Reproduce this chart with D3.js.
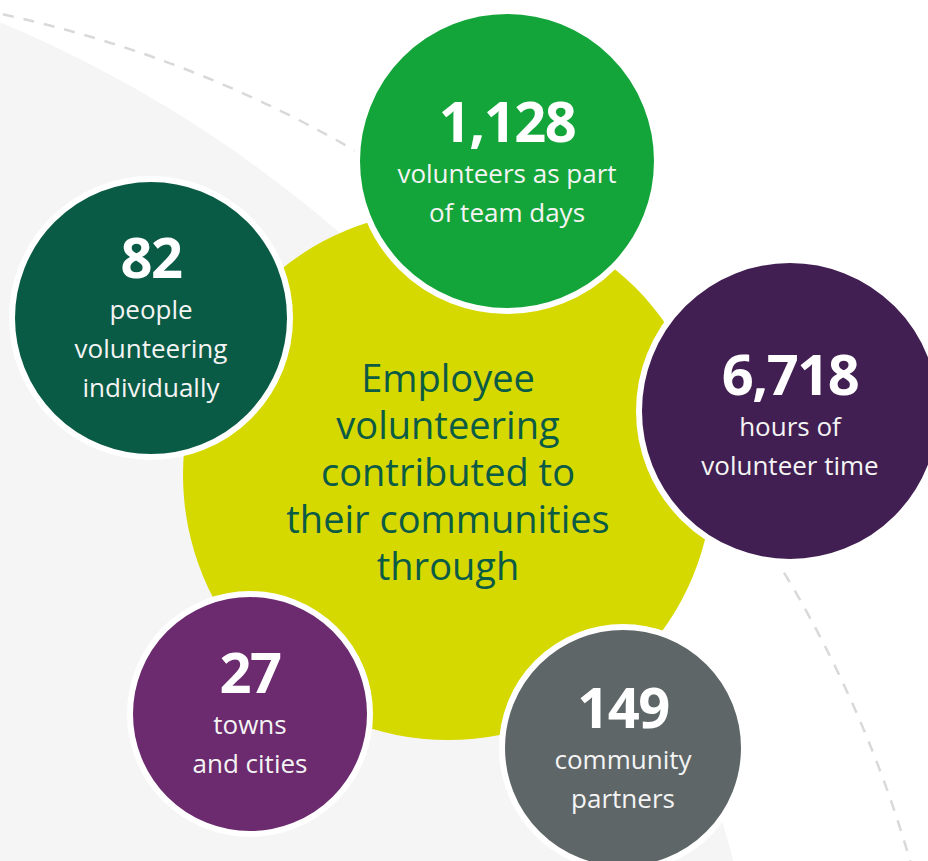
<!DOCTYPE html>
<html>
<head>
<meta charset="utf-8">
<title>employee volunteering</title>
<script src="https://d3js.org/d3.v7.min.js"></script>
<style>
    body { margin: 0; background: #fff; }
    svg { display: block; }
    .num { font-family: "Open Sans", sans-serif; font-weight: 700; fill: #fff; }
    .lbl { font-family: "Open Sans", sans-serif; fill: #f4f4f4; }
    .mid { font-family: "Open Sans", sans-serif; fill: #0b5b45; }
</style>
</head>
<body>
<svg class="chart"></svg>
<script>
    // data
    var statValues = [1128, 82, 6718, 27, 149];
    var statLabels = [
        ["volunteers as part", "of team days"],
        ["people", "volunteering", "individually"],
        ["hours of", "volunteer time"],
        ["towns", "and cities"],
        ["community", "partners"]
    ];
    var centreLines = ["Employee", "volunteering", "contributed to", "their communities", "through"];

    // layout (one entry per stat)
    var bubbleX = [507, 151, 790, 250, 623];
    var bubbleY = [161, 318, 411, 714, 748];
    var bubbleR = [150, 139, 151, 120, 121];
    var numOffset = [-19, -40, -16, -21, -20];
    var bubbleFill = ["#14a53a", "#0a5b45", "#421f52", "#6c2a6f", "#5f6668"];

    var width = 928, height = 861;

    var svg = d3.select(".chart")
        .attr("width", width)
        .attr("height", height);

    var x = d3.scaleIdentity().domain([0, width]);
    var y = d3.scaleIdentity().domain([0, height]);
    var fmt = d3.format(",");

    // light grey backdrop
    svg.append("circle")
        .attr("cx", x(-489)).attr("cy", y(1190)).attr("r", 1266)
        .attr("fill", "#f5f5f5");

    // dashed arc
    svg.append("circle")
        .attr("cx", x(-253)).attr("cy", y(1198)).attr("r", 1211)
        .attr("fill", "none")
        .attr("stroke", "#d9d9d9")
        .attr("stroke-width", 2.5)
        .attr("stroke-dasharray", "11 10");

    // centre circle
    svg.append("circle")
        .attr("cx", x(448)).attr("cy", y(475)).attr("r", 265)
        .attr("fill", "#d6d900");

    var mid = svg.append("text")
        .attr("class", "mid")
        .attr("text-anchor", "middle")
        .style("font-size", "38px");
    mid.selectAll("tspan")
        .data(centreLines)
        .enter().append("tspan")
        .attr("x", x(448))
        .attr("y", function(d, i) { return y(392 + i * 47); })
        .text(function(d) { return d; });

    // stat bubbles
    var stats = statValues.map(function(v, i) {
        return { value: v, lines: statLabels[i], i: i };
    });

    var g = svg.selectAll(".bubble")
        .data(stats)
        .enter().append("g")
        .attr("class", "bubble")
        .attr("transform", function(d) {
            return "translate(" + x(bubbleX[d.i]) + "," + y(bubbleY[d.i]) + ")";
        });

    g.append("circle")
        .attr("r", function(d) { return bubbleR[d.i]; })
        .attr("fill", function(d) { return bubbleFill[d.i]; })
        .attr("stroke", "#fff")
        .attr("stroke-width", 6);

    g.append("text")
        .attr("class", "num")
        .attr("text-anchor", "middle")
        .attr("y", function(d) { return numOffset[d.i]; })
        .style("font-size", "56px")
        .style("letter-spacing", "-1.5px")
        .text(function(d) { return fmt(d.value); });

    g.each(function(d) {
        d3.select(this).append("text")
            .attr("class", "lbl")
            .attr("text-anchor", "middle")
            .style("font-size", "26px")
            .selectAll("tspan")
            .data(d.lines)
            .enter().append("tspan")
            .attr("x", 0)
            .attr("y", function(t, j) { return numOffset[d.i] + 41 + j * 39; })
            .text(function(t) { return t; });
    });
</script>
</body>
</html>
